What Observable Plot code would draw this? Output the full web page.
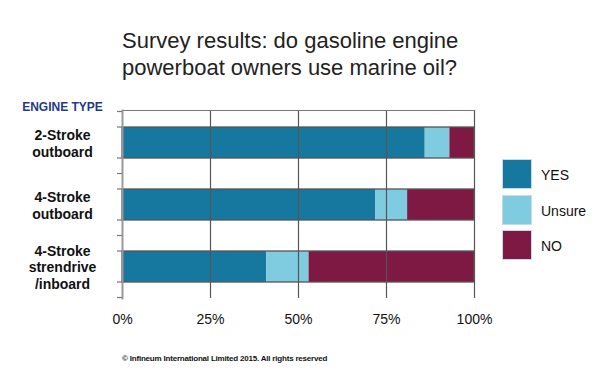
<!DOCTYPE html>
<html>
<head>
<meta charset="utf-8">
<script src="https://cdn.jsdelivr.net/npm/d3@7"></script>
<script src="https://cdn.jsdelivr.net/npm/@observablehq/plot@0.6"></script>
<style>
  html, body { margin: 0; padding: 0; background: #fff; }
  #wrap { position: relative; width: 599px; height: 379px; font-family: Arial, "Liberation Sans", sans-serif; overflow: hidden; }
  #title { position: absolute; left: 122px; top: 27px; font-size: 22px; line-height: 27px; color: #222; }
  #ytitle { position: absolute; left: 0; width: 125px; text-align: center; top: 100px; font-size: 12px; font-weight: bold; color: #1f3b87; }
  #legend { position: absolute; left: 502px; top: 159px; }
  .li { position: relative; height: 35.5px; }
  .sw { position: absolute; left: 0; top: 0; width: 30px; height: 30px; border: 1px solid #c9dbe6; box-sizing: border-box; }
  .lt { position: absolute; left: 39px; top: 8px; font-size: 14px; color: #111; }
  #copy { position: absolute; left: 122px; top: 354px; font-size: 8px; font-weight: bold; color: #111; letter-spacing: -0.2px; }
  #chart { position: absolute; left: 0; top: 0; }
</style>
</head>
<body>
<div id="wrap">
  <div id="chart"></div>
  <div id="title">Survey results: do gasoline engine<br>powerboat owners use marine oil?</div>
  <div id="ytitle">ENGINE TYPE</div>
  <div id="legend"></div>
  <div id="copy">© Infineum International Limited 2015. All rights reserved</div>
</div>
<script>
const categories = ["2-Stroke\noutboard", "4-Stroke\noutboard", "4-Stroke\nstrendrive\n/inboard"];
const answers = ["YES", "Unsure", "NO"];
const yesValues = [86, 72, 41];
const unsureValues = [7, 9, 12];
const noValues = [7, 19, 47];
const xTicks = [0, 25, 50, 75, 100];
const colors = ["#17789f", "#7fcce0", "#7e1943"];

const seriesValues = [yesValues, unsureValues, noValues];
const rows = [];
categories.forEach((c, i) => {
  answers.forEach((a, j) => rows.push({category: c, answer: a, value: seriesValues[j][i]}));
});
const totals = categories.map((c, i) => ({category: c, total: yesValues[i] + unsureValues[i] + noValues[i]}));

const plot = Plot.plot({
  width: 599,
  height: 379,
  marginLeft: 122,
  marginRight: 125,
  marginTop: 110,
  marginBottom: 81,
  style: {fontFamily: "Arial, 'Liberation Sans', sans-serif", background: "transparent"},
  x: {domain: [0, 100]},
  y: {domain: categories, paddingInner: 0.5, paddingOuter: 0.25},
  color: {domain: answers, range: colors},
  marks: [
    Plot.barX(rows, Plot.stackX({x: "value", y: "category", fill: "answer", order: answers})),
    Plot.barX(totals, {x1: d => 0, x2: "total", y: "category", fill: "none", stroke: "#555", strokeWidth: 1.3}),
    Plot.ruleX(xTicks.slice(1), {stroke: "#555", strokeWidth: 1.2}),
    Plot.frame({anchor: "top", stroke: "#777", strokeWidth: 1.2}),
    Plot.frame({anchor: "left", stroke: "#999", strokeWidth: 2}),
    Plot.axisX({ticks: xTicks, tickFormat: d => d + "%", tickSize: 0, tickPadding: 16, fontSize: 14, label: null, color: "#111"}),
    Plot.axisY({tickSize: 0, tickPadding: 60, textAnchor: "middle", fontSize: 14, fontWeight: "bold", lineHeight: 1.2, label: null, color: "#111"})
  ]
});
document.getElementById("chart").appendChild(plot);

// small left tick marks at band edges and step boundaries, derived from the y scale
const ys = plot.scale("y");
const bw = ys.bandwidth, step = ys.step;
const tickPos = [];
categories.forEach((c, i) => {
  const s = ys.apply(c);
  tickPos.push(s - (step - bw) / 2, s, s + bw);
  if (i === categories.length - 1) tickPos.push(s + bw + (step - bw) / 2);
});
const x0 = plot.scale("x").apply(0);
d3.select(plot).append("g")
  .selectAll("line").data(tickPos).join("line")
  .attr("x1", x0 - 5).attr("x2", x0)
  .attr("y1", d => d).attr("y2", d => d)
  .attr("stroke", "#777").attr("stroke-width", 1.2);

const leg = d3.select("#legend");
answers.forEach((a, i) => {
  const item = leg.append("div").attr("class", "li");
  item.append("div").attr("class", "sw").style("background", colors[i]);
  item.append("div").attr("class", "lt").text(a);
});
</script>
</body>
</html>
